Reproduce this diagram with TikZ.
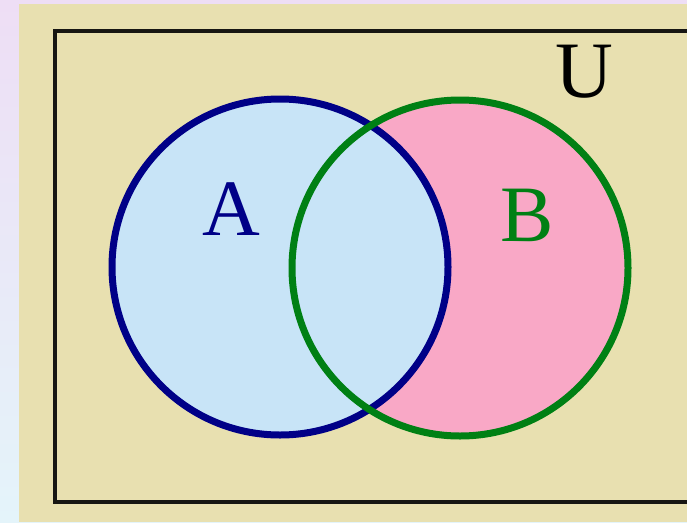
\documentclass[tikz,border=0pt]{standalone}
\usepackage{fontspec}
\setmainfont{Liberation Serif}
\definecolor{beige}{RGB}{232,224,176}
\definecolor{lightA}{RGB}{200,228,247}
\definecolor{pinkB}{RGB}{249,168,198}
\definecolor{navy}{RGB}{0,0,135}
\definecolor{greenB}{RGB}{0,128,20}
\definecolor{lav}{RGB}{238,222,245}
\definecolor{cyanish}{RGB}{228,244,250}
\tikzset{
  lbl/.style={font=\fontsize{80}{80}\selectfont, inner sep=0pt, anchor=center},
  circA/.style={draw=navy, line width=7pt},
  circB/.style={draw=greenB, line width=7pt}
}
\begin{document}
\begin{tikzpicture}[x=1pt,y=-1pt]
\useasboundingbox (0,0) rectangle (687,522);
\shade[top color=lav, bottom color=cyanish] (0,0) rectangle (687,522);
\fill[beige] (19,4) rectangle (687,522);
\draw[black!90!beige, line width=3.5pt] (687,31) -- (55,31) -- (55,502) -- (687,502);
\fill[pinkB] (460,268) circle (168);
\fill[lightA] (280,267) circle (168);
\draw[circA] (280,267) circle (168);
\draw[circB] (460,268) circle (168);
\node[lbl, text=navy] (A) at (231,209) {A};
\node[lbl, text=greenB] (B) at (527,215) {B};
\node[lbl, text=black] (U) at (584,72) {U};
\end{tikzpicture}
\end{document}
